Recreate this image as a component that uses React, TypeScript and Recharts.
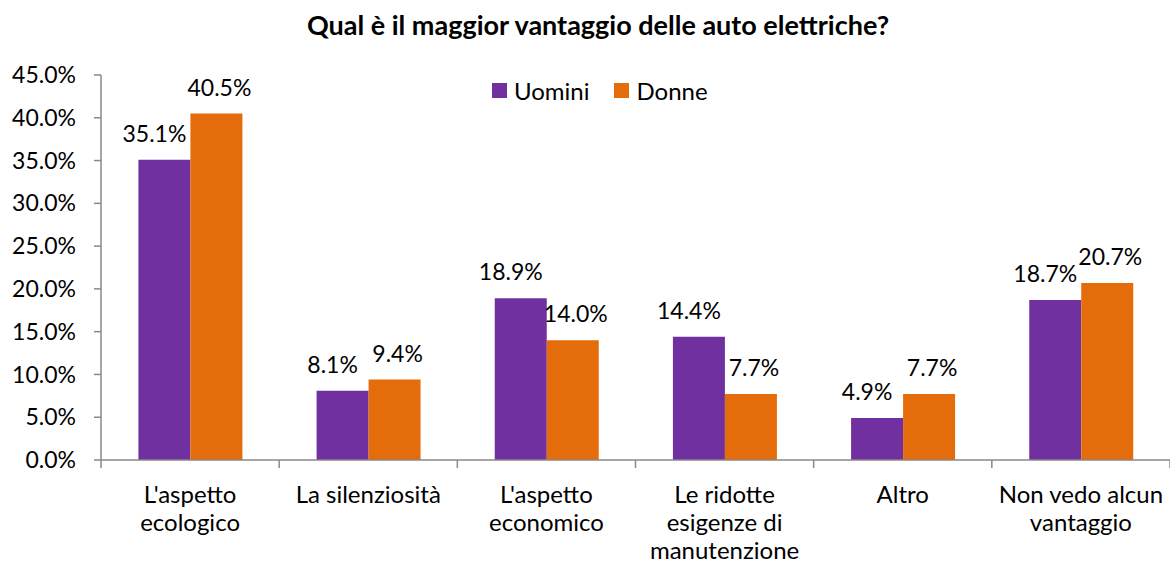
import * as React from "react";
import { BarChart, Bar, XAxis, YAxis, LabelList } from "recharts";

const title = "Qual è il maggior vantaggio delle auto elettriche?";

const categoryLines: string[][] = [
  ["L'aspetto", "ecologico"],
  ["La silenziosità"],
  ["L'aspetto", "economico"],
  ["Le ridotte", "esigenze di", "manutenzione"],
  ["Altro"],
  ["Non vedo alcun", "vantaggio"],
];
const categories = categoryLines.map((l) => l.join(" "));

const uomini = [35.1, 8.1, 18.9, 14.4, 4.9, 18.7];
const donne = [40.5, 9.4, 14.0, 7.7, 7.7, 20.7];

const yTicks = [0, 5, 10, 15, 20, 25, 30, 35, 40, 45];

const data = categories.map((name, i) => ({
  name,
  Uomini: uomini[i],
  Donne: donne[i],
}));

const W = 1170;
const H = 569;
const Y_W = 101;
const TOP = 75;
const X_H = 109;
const PLOT_BOTTOM = H - X_H;
const BAND = (W - Y_W) / categories.length;
const FONT = "Lato, 'Noto Sans', sans-serif";
const AXIS = "#898989";
const PURPLE = "#7030A0";
const ORANGE = "#E46C0A";
const NUM_SIZE = 23;
const TXT_SIZE = 24;

const pct = (v: number) => v.toFixed(1) + "%";

const XTick = (props: any) => {
  const { x, index } = props;
  const lines: string[] = categoryLines[index] || [];
  return (
    <g>
      <line x1={x - BAND / 2} x2={x - BAND / 2} y1={PLOT_BOTTOM} y2={PLOT_BOTTOM + 8} stroke={AXIS} strokeWidth={1.5} />
      {index === categories.length - 1 && (
        <line x1={x + BAND / 2} x2={x + BAND / 2} y1={PLOT_BOTTOM} y2={PLOT_BOTTOM + 8} stroke={AXIS} strokeWidth={1.5} />
      )}
      {lines.map((l, i) => (
        <text key={i} x={x} y={PLOT_BOTTOM + 43 + i * 28} textAnchor="middle" fontSize={TXT_SIZE} fontFamily={FONT} fill="#000">
          {l}
        </text>
      ))}
    </g>
  );
};

const barLabel = (dx: number) => (props: any) => {
  const { x, y, width, value } = props;
  return (
    <text x={x + width / 2 + dx} y={y - 18} textAnchor="middle" fontSize={NUM_SIZE} fontFamily={FONT} fill="#000">
      {pct(Number(value))}
    </text>
  );
};

const Swatch = ({ color }: { color: string }) => (
  <span style={{ width: 15, height: 15, background: color, display: "inline-block", marginRight: 7 }} />
);

export default function App() {
  return (
    <div style={{ position: "absolute", left: 0, top: 0, width: W, height: H, background: "#fff" }}>
      <div
        style={{
          position: "absolute",
          left: 598,
          top: 8,
          transform: "translateX(-50%)",
          whiteSpace: "nowrap",
          fontFamily: FONT,
          fontWeight: 700,
          fontSize: 27,
          color: "#000",
        }}
      >
        {title}
      </div>
      <div
        style={{
          position: "absolute",
          left: 492,
          top: 76,
          display: "flex",
          alignItems: "center",
          fontFamily: FONT,
          fontSize: TXT_SIZE,
          color: "#000",
          zIndex: 2,
        }}
      >
        <Swatch color={PURPLE} />
        <span style={{ marginRight: 25 }}>Uomini</span>
        <Swatch color={ORANGE} />
        <span>Donne</span>
      </div>
      <BarChart
        width={W}
        height={H}
        data={data}
        margin={{ top: TOP, right: 0, bottom: 0, left: 0 }}
        barCategoryGap="21%"
        barGap={0}
      >
        <XAxis
          dataKey="name"
          height={X_H}
          interval={0}
          tickLine={false}
          axisLine={{ stroke: AXIS, strokeWidth: 1.5 }}
          tick={<XTick />}
        />
        <YAxis
          width={Y_W}
          domain={[0, 45]}
          ticks={yTicks}
          interval={0}
          tickFormatter={pct}
          tickSize={7}
          tickMargin={18}
          axisLine={{ stroke: AXIS, strokeWidth: 1.5 }}
          tickLine={{ stroke: AXIS, strokeWidth: 1.5 }}
          tick={{ fill: "#000", fontSize: NUM_SIZE, fontFamily: FONT }}
        />
        <Bar dataKey="Uomini" fill={PURPLE} isAnimationActive={false}>
          <LabelList dataKey="Uomini" content={barLabel(-10)} />
        </Bar>
        <Bar dataKey="Donne" fill={ORANGE} isAnimationActive={false}>
          <LabelList dataKey="Donne" content={barLabel(3)} />
        </Bar>
      </BarChart>
    </div>
  );
}
